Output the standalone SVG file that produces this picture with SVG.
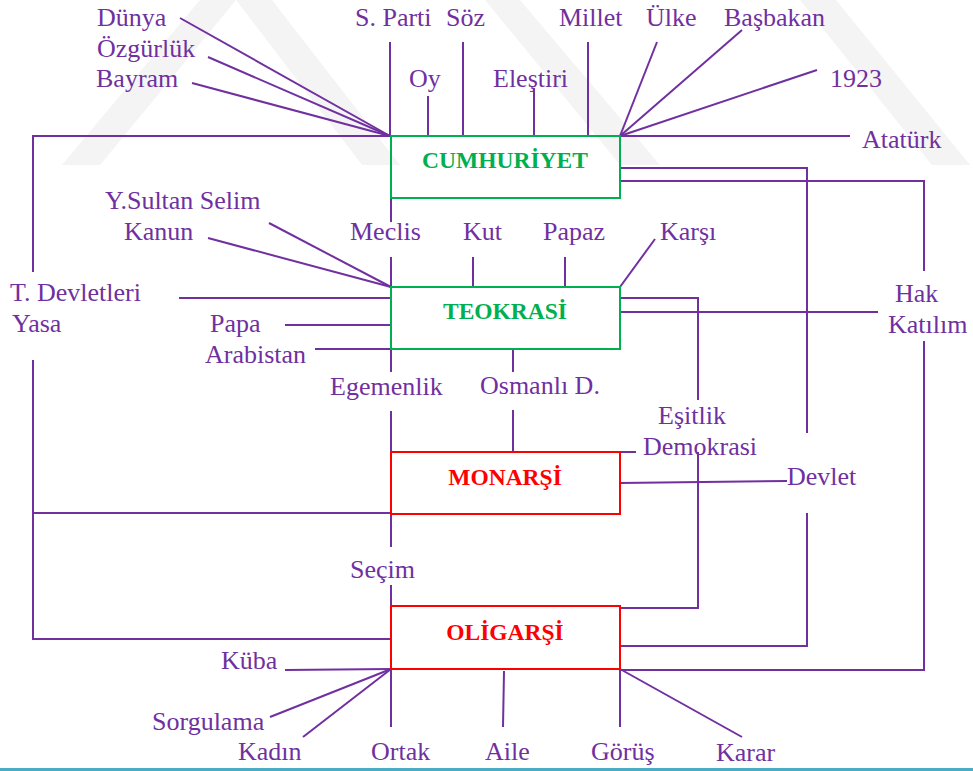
<svg xmlns="http://www.w3.org/2000/svg" width="973" height="771" viewBox="0 0 973 771">
<style>
.bg{fill:#ffffff}
.wm{fill:#f4f4f4}
.c{stroke:#7030A0;stroke-width:2;fill:none}
.t{font-family:"Liberation Serif","Times New Roman",serif;font-size:26px;fill:#7030A0}
.box{stroke-width:2;fill:none}
.g{stroke:#00B050}
.r{stroke:#FF0000}
.bt{font-family:"Liberation Serif","Times New Roman",serif;font-size:23.5px;font-weight:bold;text-anchor:middle}
.gt{fill:#00B050}
.rt{fill:#FF0000}
</style>
<rect class="bg" x="0" y="0" width="973" height="771"/>
<g id="watermark">
<polygon class="wm" points="200,0 236,0 100,165 62,165"/>
<polygon class="wm" points="236,0 272,0 400,165 362,165"/>
<polygon class="wm" points="485,0 520,0 660,165 620,165"/>
<polygon class="wm" points="800,0 836,0 970,165 932,165"/>
</g>
<g id="connectors">
<line class="c" x1="180" y1="18" x2="390" y2="136"/>
<line class="c" x1="208" y1="57" x2="390" y2="136"/>
<line class="c" x1="192" y1="83" x2="390" y2="136"/>
<polyline class="c" points="391,136 33,136 33,272"/>
<line class="c" x1="390" y1="42" x2="390" y2="136"/>
<line class="c" x1="428" y1="96" x2="428" y2="136"/>
<line class="c" x1="463" y1="42" x2="463" y2="136"/>
<line class="c" x1="534" y1="88" x2="534" y2="136"/>
<line class="c" x1="588" y1="42" x2="588" y2="136"/>
<line class="c" x1="657" y1="42" x2="620" y2="136"/>
<line class="c" x1="742" y1="30" x2="620" y2="136"/>
<line class="c" x1="817" y1="70" x2="620" y2="136"/>
<line class="c" x1="620" y1="136" x2="850" y2="136"/>
<polyline class="c" points="620,168 807,168 807,433"/>
<polyline class="c" points="620,181 924,181 924,271"/>
<line class="c" x1="391" y1="198" x2="391" y2="222"/>
<line class="c" x1="391" y1="257" x2="391" y2="287"/>
<line class="c" x1="473" y1="257" x2="473" y2="287"/>
<line class="c" x1="565" y1="257" x2="565" y2="287"/>
<line class="c" x1="655" y1="239" x2="620" y2="287"/>
<line class="c" x1="269" y1="223" x2="391" y2="287"/>
<line class="c" x1="208" y1="238" x2="391" y2="287"/>
<line class="c" x1="179" y1="298" x2="391" y2="298"/>
<line class="c" x1="285" y1="325" x2="391" y2="325"/>
<line class="c" x1="315" y1="349" x2="391" y2="349"/>
<polyline class="c" points="620,298 698,298 698,400"/>
<line class="c" x1="620" y1="312" x2="878" y2="312"/>
<polyline class="c" points="33,360 33,639 391,639"/>
<line class="c" x1="33" y1="513" x2="391" y2="513"/>
<line class="c" x1="391" y1="349" x2="391" y2="372"/>
<line class="c" x1="391" y1="411" x2="391" y2="452"/>
<line class="c" x1="513" y1="349" x2="513" y2="372"/>
<line class="c" x1="513" y1="410" x2="513" y2="452"/>
<line class="c" x1="620" y1="452" x2="636" y2="452"/>
<polyline class="c" points="698,452 698,608 620,608"/>
<line class="c" x1="620" y1="483" x2="787" y2="481"/>
<polyline class="c" points="807,513 807,646 620,646"/>
<polyline class="c" points="924,341 924,670 620,670"/>
<line class="c" x1="391" y1="513" x2="391" y2="547"/>
<line class="c" x1="391" y1="585" x2="391" y2="606"/>
<line class="c" x1="285" y1="670" x2="391" y2="669"/>
<line class="c" x1="270" y1="717" x2="391" y2="669"/>
<line class="c" x1="303" y1="737" x2="391" y2="669"/>
<line class="c" x1="391" y1="669" x2="391" y2="727"/>
<line class="c" x1="504" y1="671" x2="503" y2="727"/>
<line class="c" x1="620" y1="669" x2="620" y2="727"/>
<line class="c" x1="620" y1="669" x2="742" y2="737"/>
</g>
<g id="cumhuriyet">
<rect class="box g" x="391" y="136" width="229" height="62"/>
<text class="bt gt" x="505" y="168">CUMHURİYET</text>
</g>
<g id="teokrasi">
<rect class="box g" x="391" y="287" width="229" height="62"/>
<text class="bt gt" x="505" y="319">TEOKRASİ</text>
</g>
<g id="monarsi">
<rect class="box r" x="391" y="452" width="229" height="62"/>
<text class="bt rt" x="505" y="485">MONARŞİ</text>
</g>
<g id="oligarsi">
<rect class="box r" x="391" y="606" width="229" height="63"/>
<text class="bt rt" x="505" y="640">OLİGARŞİ</text>
</g>
<g id="labels">
<text class="t" x="97" y="26">Dünya</text>
<text class="t" x="97" y="57">Özgürlük</text>
<text class="t" x="96" y="87">Bayram</text>
<text class="t" x="355" y="26">S. Parti</text>
<text class="t" x="446" y="26">Söz</text>
<text class="t" x="559" y="26">Millet</text>
<text class="t" x="646" y="26">Ülke</text>
<text class="t" x="724" y="26">Başbakan</text>
<text class="t" x="409" y="87">Oy</text>
<text class="t" x="493" y="87">Eleştiri</text>
<text class="t" x="830" y="87">1923</text>
<text class="t" x="862" y="148">Atatürk</text>
<text class="t" x="105" y="209">Y.Sultan Selim</text>
<text class="t" x="124" y="240">Kanun</text>
<text class="t" x="350" y="240">Meclis</text>
<text class="t" x="463" y="240">Kut</text>
<text class="t" x="543" y="240">Papaz</text>
<text class="t" x="660" y="240">Karşı</text>
<text class="t" x="10" y="301">T. Devletleri</text>
<text class="t" x="12" y="332">Yasa</text>
<text class="t" x="210" y="332">Papa</text>
<text class="t" x="205" y="363">Arabistan</text>
<text class="t" x="895" y="302">Hak</text>
<text class="t" x="888" y="333">Katılım</text>
<text class="t" x="330" y="395">Egemenlik</text>
<text class="t" x="480" y="394">Osmanlı D.</text>
<text class="t" x="658" y="424">Eşitlik</text>
<text class="t" x="643" y="455">Demokrasi</text>
<text class="t" x="787" y="485">Devlet</text>
<text class="t" x="350" y="578">Seçim</text>
<text class="t" x="221" y="669">Küba</text>
<text class="t" x="152" y="730">Sorgulama</text>
<text class="t" x="238" y="760">Kadın</text>
<text class="t" x="371" y="760">Ortak</text>
<text class="t" x="485" y="760">Aile</text>
<text class="t" x="591" y="760">Görüş</text>
<text class="t" x="716" y="761">Karar</text>
</g>
<rect x="0" y="768" width="973" height="3" fill="#4BACC6"/>
</svg>
